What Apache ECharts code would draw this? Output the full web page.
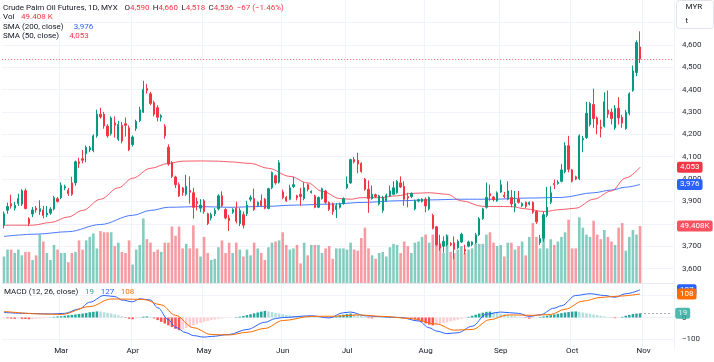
<!DOCTYPE html>
<html>
<head>
<meta charset="utf-8">
<title>Crude Palm Oil Futures</title>
<script src="https://cdn.jsdelivr.net/npm/echarts@6/dist/echarts.min.js"></script>
<style>
html,body{margin:0;padding:0;background:#ffffff;}
#chart{width:714px;height:362px;}
</style>
</head>
<body>
<div id="chart"></div>
<script>
// ---------- DATA ----------
const opens = [3794,3861,3890,3870,3891,3888,3948,3823,3844,3870,
3855,3862,3840,3848,3866,3912,3917,3960,3950,3983,
3983,4077,4091,4113,4130,4127,4193,4290,4290,4237,
4203,4250,4178,4240,4247,4229,4154,4226,4261,4299,
4405,4381,4342,4319,4276,4236,4142,4073,4009,3975,
3960,3932,3950,3939,3900,3870,3903,3845,3826,3845,
3867,3925,3864,3826,3852,3870,3802,3841,3845,3910,
3913,3882,3903,3910,3869,3961,4015,3986,3942,3918,
3910,3967,3925,3932,3913,3975,3940,3925,3874,3913,
3947,3896,3889,3864,3874,3891,3961,3983,4087,4084,
4070,4000,3954,3913,3930,3889,3860,3903,3925,3932,
3939,3983,3968,3922,3922,3867,3902,3900,3910,3867,
3838,3787,3707,3700,3707,3712,3715,3693,3719,3686,
3700,3707,3715,3751,3823,3874,3935,3920,3903,3942,
3928,3910,3918,3877,3910,3881,3896,3888,3896,3855,
3716,3736,3838,3896,3980,3980,3990,4033,4149,4041,
4010,4002,4175,4186,4244,4333,4273,4232,4236,4309,
4299,4229,4316,4276,4226,4294,4396,4476,4590];
const closes = [3845,3878,3880,3882,3913,3948,3868,3801,3862,3862,
3868,3837,3848,3866,3917,3900,3972,3967,3935,3932,
4077,4070,4084,4142,4140,4193,4290,4278,4237,4193,
4273,4240,4244,4170,4240,4131,4188,4258,4309,4400,
4396,4338,4290,4276,4283,4193,4067,4012,3975,3925,
3940,3968,3941,3874,3890,3884,3855,3802,3841,3860,
3925,3881,3826,3815,3864,3812,3860,3794,3884,3917,
3864,3896,3882,3870,3957,4029,3983,4073,3918,3903,
3961,3975,3916,3922,3961,3954,3945,3874,3918,3957,
3896,3864,3855,3881,3889,3913,3978,4087,4077,4067,
4034,3954,3913,3932,3922,3925,3918,3928,3947,3961,
3990,3965,3910,3915,3936,3903,3908,3910,3880,3918,
3780,3707,3693,3722,3744,3706,3686,3722,3754,3678,
3719,3719,3751,3823,3867,3918,3925,3908,3939,3975,
3922,3947,3889,3890,3896,3891,3879,3896,3852,3809,
3734,3841,3874,3939,3975,3986,4041,4149,4044,3990,
4000,4193,4182,4294,4338,4270,4244,4226,4345,4290,
4270,4316,4273,4250,4299,4381,4483,4610,4536];
const highs = [3855,3895,3930,3898,3935,3955,3958,3830,3875,3880,
3905,3880,3880,3875,3925,3920,3985,3975,3960,4010,
4083,4095,4130,4150,4148,4200,4310,4318,4300,4245,
4280,4280,4260,4255,4275,4240,4195,4265,4323,4439,
4425,4390,4350,4330,4290,4245,4155,4080,4015,3985,
3965,4019,4012,3961,3918,3910,3910,3850,3850,3870,
3932,3945,3870,3840,3870,3899,3870,3855,3903,3928,
3957,3900,3932,3915,3961,4034,4020,4084,3953,3925,
3975,4010,3930,3961,3986,3980,3950,3930,3922,3962,
3952,3900,3895,3893,3895,3918,4012,4091,4099,4118,
4075,4005,3994,3971,3935,3930,3925,3935,3971,3990,
3995,4012,3990,3939,3940,3908,3912,3915,3918,3922,
3845,3790,3751,3744,3752,3718,3744,3730,3760,3707,
3725,3722,3760,3830,3872,3985,3975,3925,3945,3997,
3942,3990,3951,3947,3947,3896,3900,3900,3900,3860,
3750,3855,3965,3968,3998,3995,4067,4164,4193,4045,
4015,4200,4193,4345,4345,4403,4280,4265,4388,4396,
4316,4330,4366,4287,4309,4388,4507,4620,4660];
const lows = [3780,3845,3868,3860,3880,3880,3865,3790,3830,3850,
3840,3825,3830,3840,3860,3895,3910,3950,3925,3925,
3970,4050,4070,4075,4120,4120,4185,4270,4225,4185,
4195,4185,4170,4160,4190,4125,4145,4215,4255,4295,
4382,4330,4280,4258,4258,4180,4060,4005,3960,3920,
3925,3925,3890,3823,3860,3852,3845,3795,3815,3835,
3860,3875,3820,3768,3845,3802,3790,3780,3835,3900,
3858,3875,3878,3865,3865,3955,3975,3980,3910,3898,
3905,3960,3905,3881,3905,3945,3935,3870,3870,3908,
3890,3858,3841,3826,3868,3885,3955,3978,4070,4026,
4028,3948,3849,3908,3915,3882,3850,3898,3920,3928,
3935,3960,3881,3874,3915,3860,3896,3895,3852,3860,
3775,3700,3680,3671,3700,3700,3642,3688,3715,3664,
3695,3700,3710,3745,3818,3868,3903,3900,3898,3938,
3915,3905,3874,3852,3890,3875,3870,3882,3845,3800,
3705,3720,3830,3888,3955,3975,3985,4025,4030,3985,
3995,3995,4120,4180,4235,4229,4200,4186,4230,4273,
4244,4220,4244,4229,4220,4285,4390,4460,4518];
// volume in thousands
const volumesK = [23,29,29,26,29,24,27,27,20,24,
42,36,26,20,33,29,26,26,18,26,
27,37,29,37,40,43,30,45,44,44,
44,32,35,27,26,37,16,29,33,56,
38,35,27,29,27,35,35,49,41,49,
30,34,30,50,30,23,40,26,20,21,
31,37,26,35,26,35,29,23,29,24,
35,30,26,20,31,35,36,37,44,33,
29,30,33,17,35,24,33,33,33,26,
30,32,21,30,30,30,29,35,29,28,
39,48,30,24,21,26,27,23,31,34,
33,26,36,32,26,35,36,40,42,35,
42,41,35,26,42,27,26,29,32,26,
29,30,34,34,34,42,44,35,32,33,
23,35,35,29,32,36,24,40,52,40,
30,44,30,38,33,36,40,44,55,30,
30,57,48,42,40,54,42,38,46,40,
36,33,48,52,28,40,46,42,49.408];
// MACD histogram per bar
const macdHist = [-3,-4,-5,-6,-5,-6,-7,-8,-7,-6,-5,-4,-2,
1,3,5,6,8,10,12,14,16,18,21,24,26,28,27,24,21,18,14,10,6,
-2,-6,-8,-4,1,4,5,3,
-4,-12,-20,-28,-36,-44,-52,-58,-55,-48,-42,-36,-30,-25,-20,-16,-12,-9,-6,-4,-2,-1,
0,2,4,7,11,15,19,23,27,30,28,25,21,18,15,12,10,8,6,5,4,3,3,2,2,1,0,-1,
2,5,9,13,16,18,17,13,8,3,-3,-4,-2,-1,0,1,2,2,1,0,-1,-2,-4,
-8,-14,-20,-27,-33,-36,-34,-30,-26,-22,-18,-14,-10,-6,-2,
3,8,13,18,22,26,27,25,22,18,15,12,9,6,3,1,-2,-5,-3,-1,
2,5,8,11,14,17,20,23,25,27,28,26,23,20,17,14,11,8,5,2,-1,-3,-2,3,8,12,16,18,19];
// MACD and signal lines, read at points [bar index, value]
const macdLinePts = [[0,23],[6,19],[13,16],[17,19],[21,39],[24,70],[28,101],[31,96],[33,80],[36,72],[38,86],[41,80],[43,45],[46,-10],[48,-45],[51,-70],[53,-83],[56,-90],[58,-87],[63,-78],[68,-55],[73,-22],[76,-5],[78,0],[86,8],[91,-2],[95,22],[97,25],[101,8],[106,3],[111,0],[116,-16],[119,-47],[121,-62],[124,-74],[127,-70],[131,-40],[135,15],[139,25],[144,19],[147,5],[150,12],[154,43],[156,54],[160,101],[164,109],[168,101],[171,93],[174,109],[178,127]];
const signalLinePts = [[0,28],[11,16],[16,14],[24,50],[30,85],[36,84],[39,83],[44,58],[48,10],[53,-47],[58,-78],[63,-80],[68,-68],[73,-50],[78,-14],[86,5],[93,6],[99,12],[106,5],[114,-5],[121,-30],[126,-58],[131,-55],[136,-10],[141,12],[148,10],[153,14],[157,38],[162,75],[167,92],[172,98],[178,108]];
// moving averages, read at points [bar index, value]
const sma50Pts = [[0,3794],[8,3794],[13,3806],[18,3831],[22,3860],[27,3910],[32,3961],[36,4004],[41,4048],[46,4070],[50,4080],[55,4081],[60,4080],[63,4077],[69,4070],[74,4048],[80,4012],[85,3983],[89,3946],[94,3913],[97,3910],[100,3917],[105,3917],[110,3925],[114,3936],[119,3939],[124,3932],[128,3903],[134,3878],[142,3877],[146,3867],[151,3855],[156,3864],[160,3870],[165,3910],[170,3947],[174,4005],[178,4053]];
const sma200Pts = [[0,3744],[9,3754],[18,3765],[27,3797],[36,3838],[41,3860],[46,3874],[55,3877],[63,3874],[73,3878],[82,3884],[91,3888],[101,3896],[110,3903],[119,3907],[128,3910],[137,3910],[146,3915],[156,3918],[165,3939],[170,3951],[174,3964],[178,3976]];
const monthTicks = [[16,'Mar'],[36,'Apr'],[56,'May'],[78,'Jun'],[96,'Jul'],[118,'Aug'],[139,'Sep'],[159,'Oct'],[179,'Nov']];
const hiddenPriceLabels = [3500, 3800, 4700, 4800];
const macdShownLabels = [0, -100];
const lastClose = 4536, lastSma50 = 4053, lastSma200 = 3976, lastVolK = 49.408;
const lastMacd = 127, lastSignal = 108, lastHist = 19;
const headerTitle = 'Crude Palm Oil Futures, 1D, MYX';
const headerOHLC = [['O', '4,590'], ['H', '4,660'], ['L', '4,518'], ['C', '4,536']];
const headerChange = '−67 (−1.46%)';
const SLOTS = 188; // bars + right margin of the time scale

// ---------- CHART ----------
const FONT = 'Roboto, "Noto Sans", sans-serif';
const FS = 8;
const UP = '#089981', DOWN = '#F23645';
const TXT = '#131722';
const GRIDC = '#f0f3fa';
const NONE = 'rgba(0,0,0,0)';
const cats = Array.from({length: SLOTS}, (_, i) => 'b' + i);
const monthMap = {};
monthTicks.forEach(([i, m]) => { monthMap[i] = m; });
const isMonth = (i) => Object.prototype.hasOwnProperty.call(monthMap, i);
const fmt = (v) => v.toLocaleString('en-US');

const candleData = opens.map((o, i) => [o, closes[i], lows[i], highs[i]]);
const volData = volumesK.map((v, i) => ({
  value: v,
  itemStyle: { color: closes[i] >= opens[i] ? 'rgba(8,153,129,0.5)' : 'rgba(242,54,69,0.5)' }
}));
const histData = macdHist.map((h, i) => {
  const p = i > 0 ? macdHist[i - 1] : h;
  let c;
  if (h >= 0) c = h > p ? '#26A69A' : '#B2DFDB';
  else c = h < p ? '#FF5252' : '#FFCDD2';
  return { value: h, itemStyle: { color: c } };
});

function badge(text, bg) {
  return {
    show: true, position: 'end', distance: 3, formatter: text,
    backgroundColor: bg, color: '#ffffff', fontSize: FS, fontFamily: FONT,
    padding: [2, 3, 1, 3], borderRadius: 2
  };
}
const hiddenLine = { color: NONE, width: 0.5, opacity: 1 };

const priceSplitColors = [];
for (let v = 3500; v <= 4800; v += 100) priceSplitColors.push(v === 3500 || v === 4800 ? NONE : GRIDC);
const macdSplitColors = [];
for (let v = -150; v <= 150; v += 50) macdSplitColors.push(v === 0 || v === 100 || v === -100 ? GRIDC : NONE);

// legend texts (rich text, flowing left to right)
const st = (c) => ({ fill: c, fontSize: FS, fontFamily: FONT });
const RICH = { n: st(TXT), r: st(DOWN), b: st('#2962FF'), g: st('#26A69A'), o: st('#FF6D00') };
function legend(top, text, left) {
  return { type: 'text', left: left === undefined ? 3 : left, top: top, z: 10, style: { text: text, rich: RICH } };
}
const line1 = '{n|' + headerTitle + '}  ' +
  headerOHLC.map(([k, v]) => '{n|' + k + '}{r|' + v + '}').join(' ') + ' {r|' + headerChange + '}';

const chart = echarts.init(document.getElementById('chart'), null, { renderer: 'canvas' });
const option = {
  animation: false,
  backgroundColor: '#ffffff',
  textStyle: { fontFamily: FONT },
  grid: [
    { left: 2.2, right: 40, top: -8, bottom: 71 },
    { left: 2.2, right: 40, top: 200, height: 83 },
    { left: 2.2, right: 40, top: 284.8, height: 65.4 }
  ],
  xAxis: [
    { type: 'category', gridIndex: 0, data: cats, boundaryGap: true,
      axisLine: { show: false }, axisTick: { show: false }, axisLabel: { show: false },
      splitLine: { show: true, interval: (i) => isMonth(i), lineStyle: { color: GRIDC, width: 1 } } },
    { type: 'category', gridIndex: 1, data: cats, boundaryGap: true,
      axisLine: { show: true, lineStyle: { color: '#e6e9ef', width: 1 } }, axisTick: { show: false }, axisLabel: { show: false },
      splitLine: { show: false } },
    { type: 'category', gridIndex: 2, data: cats, boundaryGap: true, offset: -6,
      axisLine: { show: false }, axisTick: { show: false },
      axisLabel: { show: true, interval: (i) => isMonth(i), formatter: (v, i) => monthMap[i] || '',
        fontSize: FS, color: TXT, fontFamily: FONT, margin: 2.5 },
      splitLine: { show: true, interval: (i) => isMonth(i), lineStyle: { color: GRIDC, width: 1 } } }
  ],
  yAxis: [
    { type: 'value', gridIndex: 0, position: 'right', min: 3500, max: 4800, interval: 100,
      axisLine: { show: false }, axisTick: { show: false },
      axisLabel: { fontSize: FS, color: '#2a2e39', fontFamily: FONT, margin: 8, align: 'left',
        formatter: (v) => hiddenPriceLabels.indexOf(v) >= 0 ? '' : fmt(v) },
      splitLine: { show: true, lineStyle: { color: priceSplitColors, width: 1 } } },
    { type: 'value', gridIndex: 1, min: 0, max: 72, show: false, splitLine: { show: false } },
    { type: 'value', gridIndex: 2, position: 'right', min: -150, max: 150, interval: 50,
      axisLine: { show: false }, axisTick: { show: false },
      axisLabel: { fontSize: FS, color: '#2a2e39', fontFamily: FONT, margin: 8, align: 'left',
        formatter: (v) => macdShownLabels.indexOf(v) >= 0 ? (v < 0 ? '−' + Math.abs(v) : String(v)) : '' },
      splitLine: { show: true, lineStyle: { color: macdSplitColors, width: 1 } } }
  ],
  series: [
    { name: 'Volume', type: 'bar', xAxisIndex: 1, yAxisIndex: 1, data: volData, barWidth: '72%', z: 1,
      markLine: { silent: true, symbol: ['none', 'none'], lineStyle: hiddenLine, z: 6,
        data: [{ yAxis: lastVolK }], label: badge('49.408K', '#F7525F') } },
    { name: 'SMA200', type: 'line', xAxisIndex: 0, yAxisIndex: 0, data: sma200Pts, showSymbol: false,
      smooth: 0.35, smoothMonotone: 'x', lineStyle: { color: '#2962FF', width: 1, opacity: 0.85 }, z: 2,
      markLine: { silent: true, symbol: ['none', 'none'], lineStyle: hiddenLine, z: 6,
        data: [{ yAxis: lastSma200 }], label: badge('3,976', '#2962FF') } },
    { name: 'SMA50', type: 'line', xAxisIndex: 0, yAxisIndex: 0, data: sma50Pts, showSymbol: false,
      smooth: 0.35, smoothMonotone: 'x', lineStyle: { color: '#F23645', width: 1, opacity: 0.8 }, z: 2,
      markLine: { silent: true, symbol: ['none', 'none'], lineStyle: hiddenLine, z: 6,
        data: [{ yAxis: lastSma50 }], label: badge('4,053', '#F23645') } },
    { name: 'Price', type: 'candlestick', xAxisIndex: 0, yAxisIndex: 0, data: candleData, barWidth: 1.8, z: 3,
      itemStyle: { color: UP, color0: DOWN, borderColor: UP, borderColor0: DOWN, borderWidth: 1 },
      markLine: { silent: true, symbol: ['none', 'none'],
        lineStyle: { type: [1, 2], color: '#F7525F', width: 1, opacity: 0.9 },
        data: [{ yAxis: lastClose }], label: { show: false } } },
    { name: 'Histogram', type: 'bar', xAxisIndex: 2, yAxisIndex: 2, data: histData, barWidth: '70%', z: 1,
      markLine: { silent: true, symbol: ['none', 'none'], z: 6,
        lineStyle: { type: [2, 2], color: '#9598a1', width: 1, opacity: 0.8 },
        data: [[{ coord: [178, lastHist] }, { coord: [187, lastHist] }]],
        label: badge('19', '#26A69A') } },
    { name: 'MACD', type: 'line', xAxisIndex: 2, yAxisIndex: 2, data: macdLinePts, showSymbol: false,
      smooth: 0.35, smoothMonotone: 'x', lineStyle: { color: '#2962FF', width: 1 }, z: 3,
      markLine: { silent: true, symbol: ['none', 'none'], lineStyle: hiddenLine, z: 6,
        data: [{ yAxis: lastMacd }], label: badge('127', '#2962FF') } },
    { name: 'Signal', type: 'line', xAxisIndex: 2, yAxisIndex: 2, data: signalLinePts, showSymbol: false,
      smooth: 0.35, smoothMonotone: 'x', lineStyle: { color: '#FF6D00', width: 1 }, z: 3,
      markLine: { silent: true, symbol: ['none', 'none'], lineStyle: hiddenLine, z: 7,
        data: [{ yAxis: lastSignal }], label: badge('108', '#FF6D00') } }
  ],
  graphic: [
    legend(1.5, line1),
    legend(11, '{n|Vol}  {r|49.408 K}'),
    legend(20.5, '{n|SMA (200, close)}   {b|3,976}'),
    legend(30, '{n|SMA (50, close)}   {r|4,053}'),
    legend(286, '{n|MACD (12, 26, close)}  {g|19}  {b|127}  {o|108}', 4),
    { type: 'group', right: 0, top: 0, z: 10, children: [
      { type: 'rect', shape: { x: 0, y: 0, width: 37, height: 28, r: 3 }, style: { fill: '#ffffff', stroke: '#e0e3eb', lineWidth: 1 } },
      { type: 'text', x: 9, y: 2, style: { text: 'MYR', fill: TXT, fontSize: FS, fontFamily: FONT } },
      { type: 'text', x: 9, y: 16, style: { text: 't', fill: TXT, fontSize: FS, fontFamily: FONT } }
    ] }
  ]
};
chart.setOption(option);
</script>
</body>
</html>
